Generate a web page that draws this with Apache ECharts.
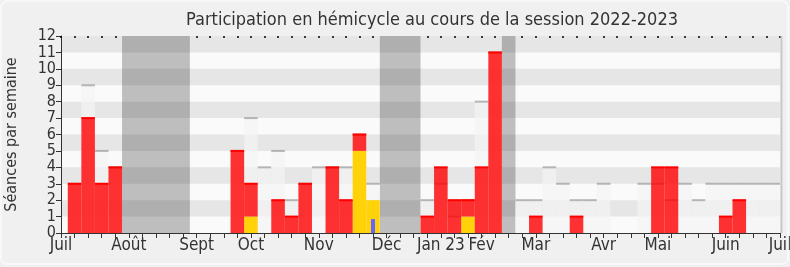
<!DOCTYPE html>
<html>
<head>
<meta charset="utf-8">
<script src="https://cdn.jsdelivr.net/npm/echarts@6/dist/echarts.min.js"></script>
<style>
html,body{margin:0;padding:0;background:#f0f0f0;}
#c{width:790px;height:267px;}
</style>
</head>
<body>
<div id="c"></div>
<script>
// Week index 0..52 (each week spans [n+0.5, n+1.5] on the x scale)
var monthLabels = ['Juil','Août','Sept','Oct','Nov','Déc','Jan 23','Fév','Mar','Avr','Mai','Juin','Juil'];
var monthTickPos = [0,5,10,14,19,24,28,31,35,40,44,49,53];
var yTicks = [0,1,2,3,4,5,6,7,8,9,10,11,12];

var presence = [3,7,3,4,0,0,0,0,0,0,0,0,5,2,0,2,1,3,0,4,2,1,0,0,0,0,1,4,2,1,4,11,0,0,1,0,0,1,0,0,0,0,0,4,4,0,0,0,1,2,0,0,0];
var participation = [0,0,0,0,0,0,0,0,0,0,0,0,0,1,0,0,0,0,0,0,0,5,2,0,0,0,0,0,0,1,0,0,0,0,0,0,0,0,0,0,0,0,0,0,0,0,0,0,0,0,0,0,0];
var questions = [0,0,0,0,0,0,0,0,0,0,0,0,0,0,0,0,0,0,0,0,0,0,0.85,0,0,0,0,0,0,0,0,0,0,0,0,0,0,0,0,0,0,0,0,0,0,0,0,0,0,0,0,0,0];
var seances = [3,9,5,4,0,0,0,0,0,0,0,0,5,7,4,5,2,3,4,4,4,6,3,0,0,0,2,3,1,2,8,11,0,2,2,4,3,2,2,3,0,0,3,3,2,3,2,3,3,3,3,3,3];
var vacances = [[4,8],[23,25],[32,32]];

var chart = echarts.init(document.getElementById('c'), null, {renderer:'canvas'});

function weekRect(params, api, x0, x1, y0, y1){
  var p0 = api.coord([x0, y1]);
  var p1 = api.coord([x1, y0]);
  return echarts.graphic.clipRectByRect(
    {x:p0[0], y:p0[1], width:p1[0]-p0[0], height:p1[1]-p0[1]},
    {x:params.coordSys.x, y:params.coordSys.y, width:params.coordSys.width, height:params.coordSys.height});
}

var weeks = presence.map(function(v,i){return i;});

var bandData = [];
for (var b=1;b<12;b+=2) bandData.push([b,b+1]);

var FONT = 'DejaVu Sans Condensed, DejaVu Sans';

var option = {
  backgroundColor:'#f0f0f0',
  animation:false,
  title:{
    text:'Participation en hémicycle au cours de la session 2022-2023',
    left:427, top:6, textAlign:'center',
    textStyle:{fontFamily:FONT, fontSize:18, fontWeight:'normal', color:'#333'}
  },
  grid:{left:61, right:10, top:36, height:197, show:true, backgroundColor:'#fafafa', borderWidth:0,
        containLabel:false, outerBoundsMode:'none'},
  xAxis:[{
    type:'value', min:0, max:53, interval:1,
    axisLine:{show:true, lineStyle:{color:'#333', width:1}},
    axisTick:{show:true, length:5, lineStyle:{color:'#333'}},
    splitLine:{show:false},
    axisLabel:{
      show:true, margin:4, showMinLabel:true, showMaxLabel:true, hideOverlap:false,
      fontFamily:FONT, fontSize:17, color:'#333',
      formatter:function(v){var k=monthTickPos.indexOf(Math.round(v)); return k>=0?monthLabels[k]:'';}
    }
  },{
    type:'value', min:0, max:53, interval:1, position:'top',
    axisLine:{show:false},
    axisTick:{show:true, inside:true, length:2, lineStyle:{color:'#000', width:1.5}},
    axisLabel:{show:false}, splitLine:{show:false}
  }],
  yAxis:{
    type:'value', min:0, max:12, interval:1,
    name:'Séances par semaine', nameLocation:'middle', nameGap:41, nameRotate:90,
    nameTextStyle:{fontFamily:FONT, fontSize:16, color:'#333'},
    axisLine:{show:true, lineStyle:{color:'#333'}},
    axisTick:{show:true, length:5, lineStyle:{color:'#333'}},
    splitLine:{show:false},
    axisLabel:{margin:5, fontFamily:FONT, fontSize:16, color:'#333',
      showMinLabel:true, showMaxLabel:true,
      formatter:function(v){return yTicks.indexOf(v)>=0?String(v):'';}}
  },
  series:[
    { // vacations
      type:'custom', z:1, data:vacances,
      renderItem:function(params, api){
        var r = weekRect(params, api, api.value(0)+0.5, api.value(1)+1.5, 0, 12.2);
        return r && {type:'rect', shape:r, style:{fill:'#bebebe'}};
      }
    },
    { // horizontal bands
      type:'custom', z:2, data:bandData,
      renderItem:function(params, api){
        var r = weekRect(params, api, 0, 53, api.value(0), api.value(1));
        return r && {type:'rect', shape:r, style:{fill:'rgba(0,0,0,0.08)'}};
      }
    },
    { // total séances of the week
      type:'custom', z:3, data:weeks.map(function(i){return [i, seances[i]];}),
      renderItem:function(params, api){
        var n = api.value(0), v = api.value(1);
        if (!v) return null;
        var r = weekRect(params, api, n+0.5, n+1.5, 0, v);
        if (!r) return null;
        return {type:'group', children:[
          {type:'rect', shape:r, style:{fill:'rgba(244,244,244,0.7)'}},
          {type:'rect', shape:{x:r.x, y:r.y-1, width:r.width, height:2}, style:{fill:'rgba(160,160,160,0.75)'}}
        ]};
      }
    },
    { // participation (yellow)
      type:'custom', z:4, data:weeks.map(function(i){return [i, participation[i]];}),
      renderItem:function(params, api){
        var n = api.value(0), v = api.value(1);
        if (!v) return null;
        var r = weekRect(params, api, n+0.5, n+1.5, 0, v);
        return r && {type:'rect', shape:r, style:{fill:'#ffd20a'}};
      }
    },
    { // présence (red) stacked on participation
      type:'custom', z:5, data:weeks.map(function(i){return [i, participation[i], participation[i]+presence[i]];}),
      renderItem:function(params, api){
        var n = api.value(0), b = api.value(1), t = api.value(2);
        if (t<=b) return null;
        var r = weekRect(params, api, n+0.5, n+1.5, b, t);
        if (!r) return null;
        return {type:'group', children:[
          {type:'rect', shape:r, style:{fill:'rgba(255,0,0,0.8)'}},
          {type:'rect', shape:{x:r.x, y:r.y-1, width:r.width, height:2}, style:{fill:'#ff0000'}}
        ]};
      }
    },
    { // questions (thin blue)
      type:'custom', z:6, data:weeks.map(function(i){return [i, questions[i]];}),
      renderItem:function(params, api){
        var n = api.value(0), v = api.value(1);
        if (!v) return null;
        var p0 = api.coord([n+1, v]), p1 = api.coord([n+1, 0]);
        return {type:'rect', shape:{x:p0[0]-2, y:p0[1], width:4, height:p1[1]-p0[1]}, style:{fill:'#6464ff'}};
      }
    }
  ]
};
chart.setOption(option);

var tl = chart.convertToPixel({gridIndex:0}, [53, 12]);
var br = chart.convertToPixel({gridIndex:0}, [53, 0]);
chart.setOption({graphic:[
  {type:'rect', shape:{x:tl[0]+0.5, y:tl[1], width:2, height:br[1]-tl[1]}, style:{fill:'#c8c8c8'}, z:10},
  {type:'rect', shape:{x:1, y:1, width:787, height:263, r:6}, style:{fill:'none', stroke:'#fafafa', lineWidth:1.5}, z:10}
]});
</script>
</body>
</html>
